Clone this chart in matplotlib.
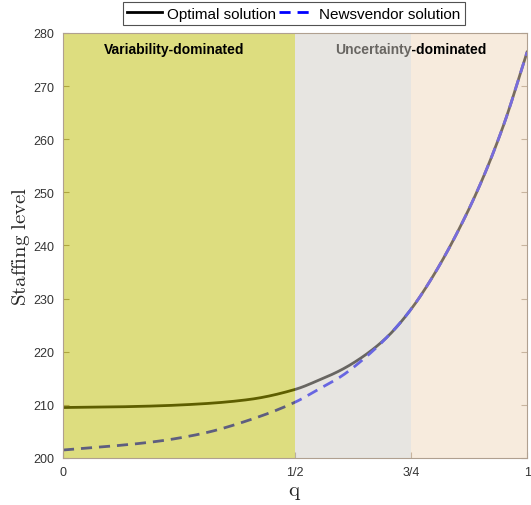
import numpy as np
from matplotlib import pyplot as plt
from matplotlib.patches import Rectangle

plt.rcParams['font.family'] = ['Liberation Sans', 'DejaVu Sans']
plt.rcParams['mathtext.fontset'] = 'cm'

# values
q = [0.0, 0.1, 0.2, 0.3, 0.4, 0.5, 0.55, 0.6, 0.65, 0.7, 0.75, 0.8, 0.85, 0.9, 0.95, 1.0]
optimal = [209.5, 209.6, 209.8, 210.2, 211.0, 212.9, 214.6, 216.6, 219.3, 222.9, 228.0,
           234.6, 242.5, 251.7, 262.8, 276.4]
newsvendor = [201.5, 202.2, 203.1, 204.6, 207.1, 210.5, 212.9, 215.4, 218.8, 222.9, 228.0,
              234.6, 242.5, 251.7, 262.8, 276.4]
regions = [(0.0, 0.5), (0.5, 0.75), (0.75, 1.0)]
region_labels = ["Variability-dominated", "Uncertainty-dominated"]
xticks = [0, 0.5, 0.75, 1]
xticklabels = ["0", "1/2", "3/4", "1"]
yticks = list(range(200, 281, 10))


def pchip(x, y, xn):
    # monotone cubic, just to draw the read points smoothly
    x = np.asarray(x, float)
    y = np.asarray(y, float)
    h = np.diff(x)
    d = np.diff(y) / h
    m = np.zeros_like(y)
    for k in range(1, len(x) - 1):
        if d[k - 1] * d[k] > 0:
            w1 = 2 * h[k] + h[k - 1]
            w2 = h[k] + 2 * h[k - 1]
            m[k] = (w1 + w2) / (w1 / d[k - 1] + w2 / d[k])
    m[0] = d[0]
    m[-1] = d[-1]
    idx = np.clip(np.searchsorted(x, xn) - 1, 0, len(h) - 1)
    t = (xn - x[idx]) / h[idx]
    hh = h[idx]
    return ((2 * t ** 3 - 3 * t ** 2 + 1) * y[idx] + (t ** 3 - 2 * t ** 2 + t) * hh * m[idx]
            + (-2 * t ** 3 + 3 * t ** 2) * y[idx + 1] + (t ** 3 - t ** 2) * hh * m[idx + 1])


fig = plt.figure(figsize=(5.31, 5.06), dpi=100)
ax = fig.add_axes([0.1186, 0.0929, 0.874, 0.84])

qq = np.linspace(0, 1, 400)
ax.plot(qq, pchip(q, optimal, qq), color="k", lw=2, zorder=1, label="Optimal solution")
ax.plot(qq, pchip(q, newsvendor, qq), color="b", lw=2, ls=(0, (4, 2.5)), zorder=1.1,
        label="Newsvendor solution")

colors = [(0.74, 0.74, 0.0), (0.82, 0.80, 0.77), (0.945, 0.85, 0.74)]
zs = [2, 4, 2]
for (a, b), c, z in zip(regions, colors, zs):
    ax.add_patch(Rectangle((a, 200), b - a, 80, facecolor=c, edgecolor="none", alpha=0.5, zorder=z))

ax.text(0.24, 277, region_labels[0], ha="center", va="center", fontsize=10, fontweight="bold", zorder=3)
ax.text(0.75, 277, region_labels[1], ha="center", va="center", fontsize=10, fontweight="bold", zorder=3)

ax.set_xlim(0, 1)
ax.set_ylim(200, 280)
ax.set_xticks(xticks)
ax.set_xticklabels(xticklabels)
ax.set_yticks(yticks)
ax.tick_params(direction="in", length=4, labelsize=9, pad=6, colors="#a09080", labelcolor="#333333",
               right=True, top=False)
for s in ax.spines.values():
    s.set_color("#b0a090")
    s.set_zorder(5)
ax.set_xlabel(r"$\mathrm{q}$", fontsize=15, color="#262626", labelpad=3)
ax.set_ylabel(r"$\mathrm{Staffing\ level}$", fontsize=15, color="#262626", labelpad=1)

leg = ax.legend(loc="lower center", bbox_to_anchor=(0.497, 1.0), ncol=2, fontsize=11,
                frameon=True, fancybox=False, edgecolor="#262626", handlelength=2.3,
                columnspacing=0.2, handletextpad=0.3, borderpad=0.3, borderaxespad=0.5)
leg.get_frame().set_linewidth(0.8)

fig.savefig("out.png")
